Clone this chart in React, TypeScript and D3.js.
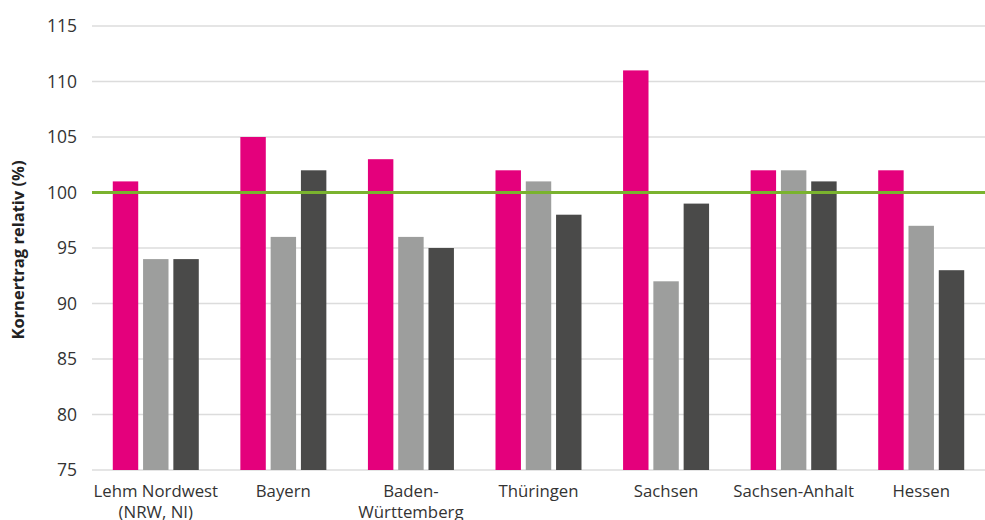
import { useEffect, useRef } from "react";
import * as d3 from "d3";

const WIDTH = 985;
const HEIGHT = 520;
const MARGIN = { top: 26, right: 0, bottom: 50, left: 92 };

const categories = [
  ["Lehm Nordwest", "(NRW, NI)"],
  ["Bayern"],
  ["Baden-", "Württemberg"],
  ["Thüringen"],
  ["Sachsen"],
  ["Sachsen-Anhalt"],
  ["Hessen"],
];
const seriesA = [101, 105, 103, 102, 111, 102, 102];
const seriesB = [94, 96, 96, 101, 92, 102, 97];
const seriesC = [94, 102, 95, 98, 99, 101, 93];
const yTicks = [75, 80, 85, 90, 95, 100, 105, 110, 115];
const referenceValue = 100;

const COLORS = ["#e4007c", "#9d9e9d", "#4a4a49"];
const FONT = "'Open Sans', 'Noto Sans', sans-serif";

export default function App() {
  const axesRef = useRef(null);
  const boundsWidth = WIDTH - MARGIN.left - MARGIN.right;
  const boundsHeight = HEIGHT - MARGIN.top - MARGIN.bottom;

  const keys = categories.map((c) => c.join(" "));
  const series = [seriesA, seriesB, seriesC];

  const xScale = d3.scaleBand().domain(keys).range([0, boundsWidth]);
  const bandInner = d3
    .scaleBand()
    .domain(["0", "1", "2"])
    .range([0, 86])
    .paddingInner(0.16);
  const yScale = d3.scaleLinear().domain([75, 115]).range([boundsHeight, 0]);

  useEffect(() => {
    const g = d3.select(axesRef.current);
    g.selectAll("*").remove();

    // y axis labels
    const yAxis = d3
      .axisLeft(yScale)
      .tickValues(yTicks)
      .tickSize(0)
      .tickPadding(15);
    const ya = g.append("g").call(yAxis);
    ya.select(".domain").remove();
    ya.selectAll("text")
      .attr("font-family", FONT)
      .attr("font-size", 17.5)
      .attr("fill", "#333");

    // x axis labels (wrapped)
    const xa = g.append("g").attr("transform", `translate(0,${boundsHeight})`);
    categories.forEach((lines, i) => {
      const cx = (xScale(keys[i]) ?? 0) + xScale.bandwidth() / 2;
      const t = xa
        .append("text")
        .attr("x", cx)
        .attr("y", 27)
        .attr("text-anchor", "middle")
        .attr("font-family", FONT)
        .attr("font-size", 16.8)
        .attr("fill", "#333");
      lines.forEach((line, j) => {
        t.append("tspan")
          .attr("x", cx)
          .attr("dy", j === 0 ? 0 : 21)
          .text(line);
      });
    });
  }, [xScale, yScale, boundsHeight]);

  const gridLines = yTicks.map((t) => (
    <line
      key={t}
      x1={0}
      x2={boundsWidth}
      y1={yScale(t)}
      y2={yScale(t)}
      stroke="#dcdcdc"
      strokeWidth={1.5}
    />
  ));

  const bars = keys.flatMap((k, i) =>
    series.map((s, j) => {
      const groupX = (xScale(k) ?? 0) + xScale.bandwidth() / 2 - 43;
      return (
        <rect
          key={k + j}
          x={groupX + (bandInner(String(j)) ?? 0)}
          y={yScale(s[i])}
          width={bandInner.bandwidth()}
          height={boundsHeight - yScale(s[i])}
          fill={COLORS[j]}
        />
      );
    })
  );

  return (
    <svg width={WIDTH} height={HEIGHT} style={{ position: "absolute", left: 0, top: 0 }}>
      <rect width={WIDTH} height={HEIGHT} fill="#fff" />
      <g transform={`translate(${MARGIN.left},${MARGIN.top})`}>
        {gridLines}
        {bars}
        <line
          x1={0}
          x2={boundsWidth}
          y1={yScale(referenceValue)}
          y2={yScale(referenceValue)}
          stroke="#7ab32e"
          strokeWidth={3}
        />
      </g>
      <g ref={axesRef} transform={`translate(${MARGIN.left},${MARGIN.top})`} />
      <text
        transform="translate(24,250) rotate(-90)"
        textAnchor="middle"
        fontFamily={FONT}
        fontWeight="bold"
        fontSize={16.5}
        fill="#222"
      >
        Kornertrag relativ (%)
      </text>
    </svg>
  );
}
